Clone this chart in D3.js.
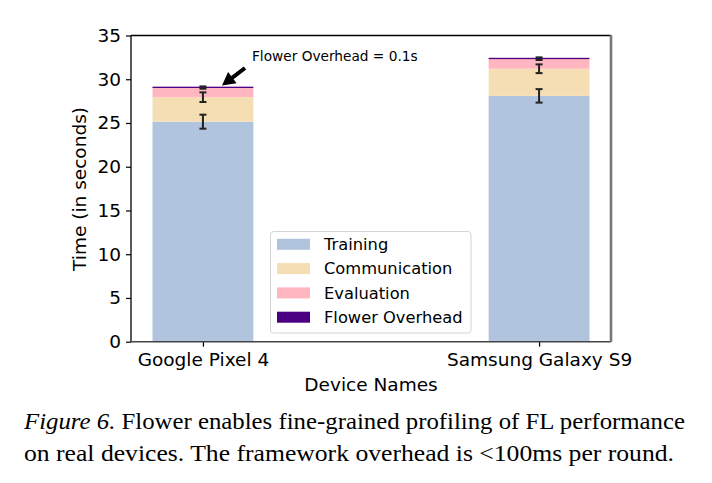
<!DOCTYPE html>
<html><head><meta charset="utf-8">
<script src="https://cdn.jsdelivr.net/npm/d3@7"></script>
<style>body{margin:0;background:#fff}svg{display:block}</style>
</head><body>
<script>
const categories = ["Google Pixel 4", "Samsung Galaxy S9"];
const seriesNames = ["Training", "Communication", "Evaluation", "Flower Overhead"];
const training = [25.15, 28.1];
const communication = [2.8, 3.1];
const evaluation = [1.1, 1.15];
const overhead = [0.1, 0.1];
const trainingErr = [0.8, 0.77];
const communicationErr = [0.55, 0.5];
const evaluationErr = [0.13, 0.15];
const yTicks = [0, 5, 10, 15, 20, 25, 30, 35];
const colors = ["#B0C4DE", "#F5DEB3", "#FFB6C1", "#4B0082"];

const W = 712, H = 483;
const svg = d3.select("body").append("svg").attr("width", W).attr("height", H);
const sans = "'DejaVu Sans', sans-serif";

const x = d3.scaleLinear().domain([-0.214, 1.214]).range([131, 611]);
const y = d3.scaleLinear().domain([0, 35]).range([341.7, 35.5]);
const barW = x(0.3) - x(0);

const series = [training, communication, evaluation, overhead];
const errs = [trainingErr, communicationErr, evaluationErr, null];

// stacked bars
const stackData = categories.map((c, i) => {
  const o = {cat: i};
  seriesNames.forEach((s, k) => o[s] = series[k][i]);
  return o;
});
const stacked = d3.stack().keys(seriesNames)(stackData);
stacked.forEach((layer, k) => {
  svg.append("g").selectAll("rect").data(layer).join("rect")
    .attr("x", d => x(d.data.cat) - barW / 2)
    .attr("width", barW)
    .attr("y", d => y(d[1]))
    .attr("height", d => Math.max(y(d[0]) - y(d[1]), k === 3 ? 1.3 : 0))
    .attr("fill", colors[k]);
});

// error bars
stacked.forEach((layer, k) => {
  if (!errs[k]) return;
  layer.forEach((d, i) => {
    const cx = x(i), e = errs[k][i];
    const g = svg.append("g").attr("stroke", "#222").attr("stroke-width", 2);
    g.append("line").attr("x1", cx).attr("x2", cx).attr("y1", y(d[1] - e)).attr("y2", y(d[1] + e));
    g.append("line").attr("x1", cx - 3.5).attr("x2", cx + 3.5).attr("y1", y(d[1] - e)).attr("y2", y(d[1] - e));
    g.append("line").attr("x1", cx - 3.5).attr("x2", cx + 3.5).attr("y1", y(d[1] + e)).attr("y2", y(d[1] + e));
  });
});

// axes
const yAxis = d3.axisLeft(y).tickValues(yTicks).tickSize(5).tickPadding(5);
const gy = svg.append("g").attr("transform", "translate(131,0)").call(yAxis);
gy.select(".domain").remove();
gy.selectAll("text").attr("font-family", sans).attr("font-size", 18.5).attr("fill", "#000");
gy.selectAll("line").attr("stroke", "#000").attr("stroke-width", 1.2);

const xAxis = d3.axisBottom(x).tickValues([0, 1]).tickFormat(i => categories[i]).tickSize(5).tickPadding(6);
const gx = svg.append("g").attr("transform", "translate(0,341.7)").call(xAxis);
gx.select(".domain").remove();
gx.selectAll("text").attr("font-family", sans).attr("font-size", 18.5).attr("fill", "#000");
gx.selectAll("line").attr("stroke", "#000").attr("stroke-width", 1.2);

// spines
svg.append("line").attr("x1", 131).attr("x2", 611).attr("y1", 35.5).attr("y2", 35.5).attr("stroke", "#000").attr("stroke-width", 1.3);
svg.append("line").attr("x1", 131).attr("x2", 131).attr("y1", 35.5).attr("y2", 341.7).attr("stroke", "#000").attr("stroke-width", 1.3);
svg.append("line").attr("x1", 131).attr("x2", 611).attr("y1", 341.7).attr("y2", 341.7).attr("stroke", "#444").attr("stroke-width", 1.6);
svg.append("line").attr("x1", 611).attr("x2", 611).attr("y1", 35).attr("y2", 342).attr("stroke", "#777").attr("stroke-width", 2.6);

// axis labels
svg.append("text").attr("x", 371).attr("y", 390.5).attr("text-anchor", "middle")
  .attr("font-family", sans).attr("font-size", 18.5).text("Device Names");
svg.append("text").attr("transform", "translate(86,189) rotate(-90)").attr("text-anchor", "middle")
  .attr("font-family", sans).attr("font-size", 18.5).text("Time (in seconds)");

// annotation
svg.append("text").attr("x", 252).attr("y", 60.5).attr("font-family", sans).attr("font-size", 13.7)
  .text("Flower Overhead = 0.1s");
(function arrow() {
  const tail = [245, 68], tip = [222, 85.5];
  const dx = tip[0] - tail[0], dy = tip[1] - tail[1];
  const L = Math.hypot(dx, dy), ux = dx / L, uy = dy / L, px = -uy, py = ux;
  const hl = 13, hw = 7, sw = 2;
  const bx = tip[0] - ux * hl, by = tip[1] - uy * hl;
  const pts = [
    [tail[0] + px * sw, tail[1] + py * sw],
    [bx + px * sw, by + py * sw],
    [bx + px * hw, by + py * hw],
    tip,
    [bx - px * hw, by - py * hw],
    [bx - px * sw, by - py * sw],
    [tail[0] - px * sw, tail[1] - py * sw]
  ];
  svg.append("polygon").attr("points", pts.map(p => p.join(",")).join(" ")).attr("fill", "#000");
})();

// legend
const lg = svg.append("g");
lg.append("rect").attr("x", 270.5).attr("y", 231.5).attr("width", 200.5).attr("height", 101.5)
  .attr("rx", 3).attr("fill", "#fff").attr("stroke", "#d5d5d5").attr("stroke-width", 1);
seriesNames.forEach((s, k) => {
  const cy = 244.3 + k * 24.3;
  lg.append("rect").attr("x", 277).attr("y", cy - 5.5).attr("width", 33).attr("height", 11).attr("fill", colors[k]);
  lg.append("text").attr("x", 324).attr("y", cy).attr("dy", "0.36em")
    .attr("font-family", sans).attr("font-size", 16.3).text(s);
});

// caption
const serif = "'Liberation Serif', 'Times New Roman', Times, serif";
const c1 = svg.append("text").attr("x", 24).attr("y", 428.5).attr("font-family", serif).attr("font-size", 23)
  .attr("textLength", 661).attr("lengthAdjust", "spacingAndGlyphs");
c1.append("tspan").attr("font-style", "italic").text("Figure 6.");
c1.append("tspan").text(" Flower enables fine-grained profiling of FL performance");
svg.append("text").attr("x", 24).attr("y", 461).attr("font-family", serif).attr("font-size", 23)
  .attr("textLength", 650).attr("lengthAdjust", "spacingAndGlyphs")
  .text("on real devices. The framework overhead is <100ms per round.");
</script>
</body></html>
